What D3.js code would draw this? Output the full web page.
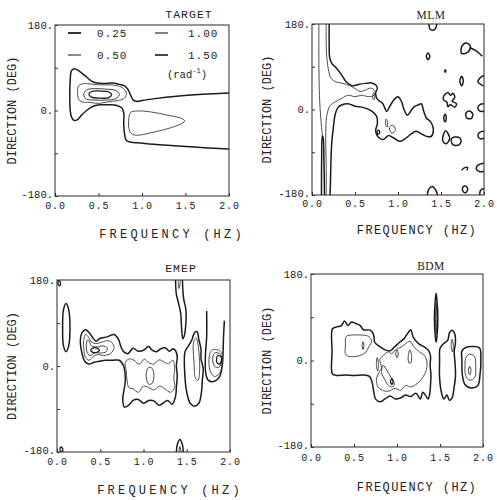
<!DOCTYPE html>
<html>
<head>
<meta charset="utf-8">
<script src="https://cdn.jsdelivr.net/npm/d3@7"></script>
<style>
body { margin: 0; background: #fff; }
svg { display: block; }
</style>
</head>
<body>
<script>
// axis values
var freqTicks = [0, 0.5, 1.0, 1.5, 2.0],
    freqLabels = ["0.0", "0.5", "1.0", "1.5", "2.0"],
    dirTicks = [-180, -90, 0, 90, 180],
    dirLabels = {"180": "180.", "0": "0.", "-180": "-180."};

// contour levels (rad^-1)
var levels = [0.25, 0.50, 1.00, 1.50],
    levelLabels = ["0.25", "0.50", "1.00", "1.50"];

// each contour: [level, closed?, [[freq, dir], ...]]
var targetContours = [
  [0.25, false, [[2.0,37],[1.7,34],[1.4,30],[1.15,25],[1.0,21],[0.95,19],[0.90,22],[0.87,32],[0.84,44],[0.80,52],[0.74,55],[0.66,58],[0.56,57],[0.48,58],[0.42,62],[0.34,74],[0.27,84],[0.22,88],[0.19,84],[0.175,65],[0.17,30],[0.175,0],[0.19,-14],[0.22,-21],[0.26,-19],[0.31,-9],[0.37,1],[0.44,9],[0.52,12],[0.62,12],[0.72,10],[0.77,5],[0.79,-5],[0.79,-30],[0.80,-50],[0.82,-63],[0.88,-67],[0.95,-68],[1.2,-72],[1.6,-77],[2.0,-81]]],
  [0.50, true, [[0.26,40],[0.27,52],[0.31,56],[0.40,56],[0.50,54],[0.62,54],[0.72,52],[0.79,46],[0.82,36],[0.80,26],[0.72,21],[0.60,18],[0.50,15],[0.40,17],[0.31,18],[0.27,24]]],
  [1.00, true, [[0.33,33],[0.36,43],[0.45,46],[0.58,45],[0.70,42],[0.74,34],[0.70,25],[0.58,22],[0.45,22],[0.36,24]]],
  [1.50, true, [[0.39,34],[0.42,40],[0.52,41],[0.62,39],[0.65,33],[0.62,27],[0.52,26],[0.42,28]]],
  [0.50, true, [[0.85,-15],[0.87,-4],[0.95,-1],[1.1,-3],[1.3,-10],[1.46,-17],[1.49,-22],[1.44,-29],[1.3,-38],[1.1,-47],[0.95,-52],[0.88,-49],[0.85,-38]]]
];

var mlmContours = [
  [0.25, false, [[0.20,180],[0.20,135],[0.205,110],[0.23,97],[0.28,88],[0.34,74],[0.40,58],[0.47,50],[0.55,53],[0.62,55],[0.69,56],[0.74,52],[0.76,44],[0.74,35],[0.76,22],[0.82,13],[0.85,2],[0.87,-4],[0.90,5],[0.95,20],[1.0,27],[1.04,17],[1.07,0],[1.11,-12],[1.15,-3],[1.19,6],[1.24,10],[1.27,12],[1.30,-4],[1.33,-18],[1.38,-26],[1.41,-40],[1.39,-56],[1.34,-57],[1.28,-52],[1.21,-46],[1.15,-52],[1.08,-62],[1.02,-67],[0.95,-60],[0.89,-55],[0.83,-63],[0.77,-58],[0.74,-45],[0.76,-30],[0.75,-14],[0.69,-3],[0.60,4],[0.50,7],[0.42,12],[0.35,10],[0.30,4],[0.27,-10],[0.25,-35],[0.23,-70],[0.22,-110],[0.215,-150],[0.21,-180]]],
  [0.50, false, [[0.165,180],[0.165,140],[0.17,115],[0.19,85],[0.22,66],[0.28,58],[0.36,55],[0.44,50],[0.50,44],[0.56,38],[0.62,41],[0.68,45],[0.73,40],[0.72,30],[0.66,27],[0.58,30],[0.50,27],[0.42,30],[0.35,24],[0.27,16],[0.21,8],[0.17,-15],[0.16,-60],[0.165,-120],[0.165,-180]]],
  [0.50, false, [[0.08,180],[0.08,100],[0.085,40],[0.095,0],[0.11,-35],[0.12,-55]]],
  [0.25, false, [[0.11,-180],[0.112,-110],[0.12,-55],[0.13,-60],[0.14,-120],[0.145,-180]]],
  [0.50, true, [[0.705,24],[0.715,34],[0.73,29],[0.72,20]]],
  [0.50, true, [[0.86,-20],[0.875,-24],[0.875,-37],[0.86,-34]]],
  [0.50, true, [[0.90,-38],[0.94,-33],[0.97,-42],[0.93,-50]]],
  [1.50, true, [[0.76,-45],[0.78,-44],[0.785,-50],[0.765,-52]]],
  [0.25, true, [[1.33,112],[1.35,119],[1.37,112],[1.35,105]]],
  [1.50, true, [[1.545,83],[1.555,83],[1.555,79],[1.545,79]]],
  [0.25, true, [[1.74,118],[1.74,132],[1.79,140],[1.84,134],[1.82,122],[1.78,118]]],
  [0.25, false, [[1.84,130],[1.92,122],[1.98,112]]],
  [0.25, false, [[1.36,180],[1.37,170],[1.41,167],[1.44,172],[1.45,180]]],
  [0.25, true, [[1.72,60],[1.74,70],[1.76,60],[1.74,50]]],
  [0.25, false, [[2.0,72],[1.95,66],[1.93,58],[1.97,52],[2.0,50]]],
  [0.25, true, [[1.53,28],[1.58,36],[1.61,30],[1.64,34],[1.66,25],[1.63,18],[1.68,12],[1.66,5],[1.61,10],[1.58,6],[1.57,15],[1.53,20]]],
  [0.25, true, [[1.79,-8],[1.83,-3],[1.87,-10],[1.85,-19],[1.80,-18]]],
  [0.25, false, [[2.0,12],[1.95,10],[1.93,2],[1.96,-4],[2.0,-3]]],
  [0.25, true, [[1.535,-14],[1.55,-10],[1.56,-18],[1.55,-26],[1.535,-22]]],
  [0.25, true, [[1.53,-52],[1.55,-45],[1.58,-50],[1.60,-62],[1.56,-72],[1.52,-66]]],
  [0.25, true, [[1.62,-62],[1.66,-58],[1.72,-60],[1.73,-70],[1.68,-76],[1.63,-72]]],
  [0.25, false, [[2.0,-45],[1.95,-48],[1.93,-56],[1.96,-62],[2.0,-60]]],
  [0.25, false, [[1.74,-128],[1.77,-123],[1.81,-122],[1.80,-128]]],
  [0.25, false, [[2.0,-113],[1.93,-117],[1.91,-125],[1.95,-131],[2.0,-130]]],
  [0.25, false, [[1.34,-180],[1.36,-167],[1.40,-162],[1.44,-170],[1.46,-180]]],
  [0.25, true, [[1.75,-165],[1.78,-161],[1.81,-166],[1.79,-175],[1.76,-173]]],
  [0.25, false, [[2.0,-166],[1.96,-170],[1.95,-180]]]
];

var emepContours = [
  [1.50, true, [[0.015,178],[0.035,177],[0.035,168],[0.015,170]]],
  [1.50, true, [[0.04,-170],[0.06,-171],[0.065,-178],[0.04,-178]]],
  [0.25, true, [[0.065,80],[0.075,118],[0.105,131],[0.135,118],[0.15,80],[0.135,42],[0.105,30],[0.075,42]]],
  [0.25, false, [[1.37,180],[1.38,150],[1.40,135],[1.43,110],[1.44,80],[1.455,57],[1.47,62],[1.49,90],[1.49,118],[1.465,140],[1.455,160],[1.45,180]]],
  [0.50, false, [[1.40,180],[1.41,162],[1.425,175],[1.43,180]]],
  [0.25, false, [[1.38,-180],[1.39,-165],[1.42,-154],[1.45,-165],[1.46,-180]]],
  [0.50, false, [[1.41,-180],[1.42,-168],[1.435,-180]]],
  [0.25, true, [[0.27,55],[0.29,70],[0.33,76],[0.37,70],[0.41,60],[0.45,52],[0.50,58],[0.58,61],[0.66,66],[0.71,56],[0.74,40],[0.77,30],[0.82,26],[0.88,37],[0.94,31],[1.0,33],[1.06,41],[1.1,33],[1.15,30],[1.2,36],[1.25,38],[1.3,31],[1.34,36],[1.37,32],[1.39,20],[1.38,0],[1.39,-20],[1.38,-45],[1.37,-64],[1.33,-80],[1.28,-72],[1.24,-76],[1.18,-82],[1.12,-73],[1.06,-72],[1.0,-78],[0.94,-70],[0.88,-72],[0.83,-82],[0.78,-86],[0.76,-70],[0.77,-55],[0.79,-30],[0.77,0],[0.72,12],[0.64,12],[0.56,12],[0.49,10],[0.43,8],[0.37,4],[0.32,10],[0.29,26]]],
  [0.50, true, [[0.79,8],[0.84,15],[0.89,12],[0.95,4],[1.01,14],[1.06,7],[1.12,4],[1.18,13],[1.24,8],[1.29,5],[1.34,12],[1.36,-5],[1.35,-25],[1.36,-45],[1.31,-55],[1.25,-48],[1.19,-42],[1.12,-50],[1.06,-45],[1.0,-42],[0.94,-55],[0.88,-48],[0.83,-45],[0.81,-30],[0.80,-10]]],
  [1.00, true, [[1.03,-18],[1.06,-3],[1.10,-5],[1.12,-20],[1.10,-36],[1.06,-38]]],
  [0.50, true, [[0.31,55],[0.33,66],[0.36,62],[0.40,50],[0.45,47],[0.52,50],[0.58,53],[0.63,50],[0.66,38],[0.62,26],[0.54,22],[0.47,24],[0.42,20],[0.37,12],[0.33,18],[0.31,35]]],
  [1.00, true, [[0.34,48],[0.36,55],[0.40,42],[0.46,40],[0.53,42],[0.58,38],[0.57,30],[0.50,27],[0.44,28],[0.38,22],[0.35,28]]],
  [1.50, true, [[0.39,33],[0.42,38],[0.47,37],[0.49,32],[0.45,28],[0.41,29]]],
  [0.25, true, [[1.48,30],[1.52,42],[1.56,55],[1.59,70],[1.62,72],[1.64,55],[1.665,35],[1.665,15],[1.69,-5],[1.68,-30],[1.67,-55],[1.64,-78],[1.59,-84],[1.54,-78],[1.50,-55],[1.48,-25]]],
  [0.50, true, [[1.58,50],[1.61,58],[1.63,45],[1.645,20],[1.65,-5],[1.63,-30],[1.60,-25],[1.585,5]]],
  [0.25, false, [[1.73,115],[1.73,60],[1.715,20],[1.72,-15],[1.75,-30],[1.82,-32],[1.88,-22],[1.91,0],[1.92,30],[1.925,60],[1.935,95]]],
  [0.50, true, [[1.76,20],[1.79,33],[1.86,34],[1.91,25],[1.91,5],[1.88,-15],[1.82,-22],[1.77,-10]]],
  [1.00, true, [[1.80,18],[1.83,28],[1.89,24],[1.905,10],[1.87,-3],[1.82,0]]],
  [1.50, true, [[1.845,15],[1.86,22],[1.895,19],[1.90,10],[1.875,4],[1.85,7]]]
];

var bdmContours = [
  [0.25, true, [[0.25,66],[0.30,70],[0.35,72],[0.39,82],[0.43,73],[0.47,80],[0.52,77],[0.57,73],[0.61,64],[0.69,63],[0.73,52],[0.74,38],[0.80,29],[0.86,22],[0.92,20],[0.97,28],[1.03,38],[1.08,45],[1.13,58],[1.16,64],[1.19,48],[1.25,35],[1.32,28],[1.37,20],[1.39,8],[1.385,-10],[1.395,-30],[1.39,-50],[1.38,-70],[1.36,-80],[1.33,-72],[1.30,-66],[1.27,-80],[1.22,-68],[1.16,-75],[1.10,-72],[1.04,-78],[0.98,-80],[0.92,-74],[0.86,-80],[0.80,-86],[0.75,-80],[0.73,-65],[0.71,-45],[0.68,-33],[0.60,-30],[0.50,-31],[0.40,-30],[0.30,-31],[0.25,-28],[0.245,20]]],
  [0.50, true, [[0.40,30],[0.41,50],[0.48,53],[0.58,53],[0.66,51],[0.70,44],[0.70,36],[0.67,28],[0.64,18],[0.58,11],[0.50,8],[0.43,9],[0.40,14]]],
  [1.00, true, [[0.595,31],[0.605,39],[0.615,31],[0.605,23]]],
  [1.00, true, [[0.76,-8],[0.77,6],[0.785,-8],[0.775,-22]]],
  [0.50, true, [[0.80,2],[0.84,10],[0.90,18],[0.94,14],[0.98,22],[1.05,28],[1.10,35],[1.15,40],[1.20,28],[1.26,18],[1.32,10],[1.35,-5],[1.33,-25],[1.28,-40],[1.22,-50],[1.16,-55],[1.10,-52],[1.04,-62],[0.98,-58],[0.90,-64],[0.83,-62],[0.78,-55],[0.76,-40],[0.79,-25],[0.82,-15]]],
  [1.00, true, [[0.84,-10],[0.88,-20],[0.93,-35],[0.97,-48],[0.95,-55],[0.90,-52],[0.86,-40],[0.82,-25]]],
  [1.50, true, [[0.925,-44],[0.94,-38],[0.955,-44],[0.94,-50]]],
  [1.00, true, [[0.985,14],[1.0,22],[1.015,14],[1.0,6]]],
  [1.00, true, [[1.13,8],[1.15,22],[1.17,8],[1.16,-5],[1.14,-5]]],
  [0.25, true, [[1.435,90],[1.445,125],[1.455,140],[1.465,125],[1.475,90],[1.465,50],[1.455,38],[1.445,50]]],
  [1.00, true, [[1.448,90],[1.455,120],[1.462,90],[1.455,55]]],
  [0.25, true, [[1.50,25],[1.54,35],[1.59,42],[1.61,58],[1.64,63],[1.67,56],[1.68,38],[1.665,18],[1.675,-5],[1.68,-32],[1.665,-55],[1.64,-78],[1.61,-83],[1.58,-72],[1.545,-80],[1.515,-65],[1.495,-35],[1.495,0]]],
  [1.00, true, [[1.63,31],[1.64,44],[1.655,31],[1.645,18]]],
  [0.25, true, [[1.755,20],[1.80,27],[1.88,29],[1.96,26],[1.975,0],[1.965,-30],[1.94,-52],[1.86,-57],[1.79,-50],[1.76,-30],[1.755,0]]],
  [0.50, true, [[1.80,5],[1.84,13],[1.90,9],[1.915,-15],[1.905,-35],[1.85,-41],[1.80,-32],[1.79,-12]]],
  [1.00, true, [[1.83,-21],[1.845,-12],[1.86,-21],[1.845,-30]]]
];

// look of each level
var mono = "'Liberation Mono', 'DejaVu Sans Mono', monospace",
    serif = "'Liberation Serif', 'DejaVu Serif', serif",
    ink = "#1b1b1b";
var levelWidth = d3.scaleOrdinal().domain(levels).range([1.5, 0.9, 0.9, 1.3]),
    levelColor = d3.scaleOrdinal().domain(levels).range([ink, "#3a3a3a", "#2a2a2a", ink]);

// panel layout
var panels = [
  {title: "TARGET", font: mono, contours: targetContours, left: 55, top: 25, width: 174, height: 171,
   titleX: 189, titleY: 18, yTitleX: 12, xPad: 6, xTitleX: 172, xTitleY: 238, xTitleSpacing: 3.2, legend: true},
  {title: "MLM", font: serif, contours: mlmContours, left: 312, top: 24, width: 172, height: 171,
   titleX: 431, titleY: 19, yTitleX: 267, xPad: 5, xTitleX: 417, xTitleY: 234, xTitleSpacing: 1.4},
  {title: "EMEP", font: mono, contours: emepContours, left: 57, top: 280, width: 173, height: 172,
   titleX: 181, titleY: 272, yTitleX: 12, xPad: 6, xTitleX: 170, xTitleY: 494, xTitleSpacing: 3.2},
  {title: "BDM", font: serif, contours: bdmContours, left: 311, top: 274, width: 172, height: 173,
   titleX: 431, titleY: 270, yTitleX: 267, xPad: 7, xTitleX: 417, xTitleY: 491, xTitleSpacing: 1.4}
];

var svg = d3.select("body")
  .append("svg")
    .attr("width", 497)
    .attr("height", 500);

panels.forEach(function(p, k) {
  var x = d3.scaleLinear().domain([0, 2]).range([p.left, p.left + p.width]),
      y = d3.scaleLinear().domain([-180, 180]).range([p.top + p.height, p.top]);

  var g = svg.append("g").attr("class", "panel");

  g.append("clipPath")
      .attr("id", "clip" + k)
    .append("rect")
      .attr("x", p.left).attr("y", p.top)
      .attr("width", p.width).attr("height", p.height);

  // contours
  var lineOpen = d3.line().x(function(d) { return x(d[0]); }).y(function(d) { return y(d[1]); })
        .curve(d3.curveCatmullRom.alpha(0.5)),
      lineClosed = d3.line().x(function(d) { return x(d[0]); }).y(function(d) { return y(d[1]); })
        .curve(d3.curveCatmullRomClosed.alpha(0.5));

  g.append("g")
      .attr("clip-path", "url(#clip" + k + ")")
    .selectAll("path")
    .data(p.contours)
    .enter()
    .append("path")
      .attr("d", function(d) { return d[1] ? lineClosed(d[2]) : lineOpen(d[2]); })
      .attr("fill", "none")
      .attr("stroke", function(d) { return levelColor(d[0]); })
      .attr("stroke-width", function(d) { return levelWidth(d[0]); })
      .attr("stroke-linejoin", "round");

  // frame
  g.append("rect")
      .attr("x", p.left).attr("y", p.top)
      .attr("width", p.width).attr("height", p.height)
      .attr("fill", "none")
      .attr("stroke", "#2a2a2a")
      .attr("stroke-width", 1);

  // axes
  var xAxis = g.append("g")
      .attr("transform", "translate(0," + (p.top + p.height) + ")")
      .call(d3.axisBottom(x)
        .tickValues(freqTicks)
        .tickSize(-3)
        .tickPadding(p.xPad)
        .tickFormat(function(d, i) { return freqLabels[i]; }));
  var yAxis = g.append("g")
      .attr("transform", "translate(" + p.left + ",0)")
      .call(d3.axisLeft(y)
        .tickValues(dirTicks)
        .tickSize(-3)
        .tickPadding(2)
        .tickFormat(function(d) { return dirLabels[d] || ""; }));
  [xAxis, yAxis].forEach(function(a) {
    a.select(".domain").remove();
    a.selectAll("line").attr("stroke", "#333");
    a.attr("font-family", mono).attr("font-size", 10);
    a.selectAll("text").attr("fill", "#222");
  });
  xAxis.selectAll("text").attr("letter-spacing", 0.8);
  yAxis.selectAll("text")
      .attr("font-size", 10.5)
      .attr("dy", function(d) { return d === -180 ? "0.1em" : "0.32em"; });

  // titles
  g.append("text")
      .attr("x", p.titleX).attr("y", p.titleY)
      .attr("text-anchor", "middle")
      .attr("font-family", p.font)
      .attr("font-size", 11.5)
      .attr("letter-spacing", p.font === mono ? 1 : 0.5)
      .attr("fill", "#222")
      .text(p.title);

  g.append("text")
      .attr("transform", "translate(" + p.yTitleX + "," + (p.top + p.height / 2) + ") rotate(-90)")
      .attr("dy", "0.35em")
      .attr("text-anchor", "middle")
      .attr("font-family", mono)
      .attr("font-size", 12)
      .attr("fill", "#222")
      .text("DIRECTION (DEG)");

  g.append("text")
      .attr("x", p.xTitleX).attr("y", p.xTitleY)
      .attr("text-anchor", "middle")
      .attr("font-family", mono)
      .attr("font-size", 12)
      .attr("letter-spacing", p.xTitleSpacing)
      .attr("fill", "#222")
      .text("FREQUENCY (HZ)");

  // legend
  if (p.legend) {
    var slots = [[68, 97, 33], [68, 97, 55], [155, 188, 33], [155, 188, 55]];
    var leg = g.append("g").attr("class", "legend");
    levels.forEach(function(lv, i) {
      var s = slots[i];
      leg.append("line")
          .attr("x1", s[0]).attr("x2", s[0] + 13)
          .attr("y1", s[2]).attr("y2", s[2])
          .attr("stroke", levelColor(lv))
          .attr("stroke-width", levelWidth(lv) + 0.3);
      leg.append("text")
          .attr("x", s[1]).attr("y", s[2])
          .attr("dy", "0.35em")
          .attr("font-family", mono)
          .attr("font-size", 11)
          .attr("letter-spacing", 1)
          .attr("fill", "#222")
          .text(levelLabels[i]);
    });
    var unit = leg.append("text")
        .attr("x", 167).attr("y", 74)
        .attr("dy", "0.35em")
        .attr("font-family", mono)
        .attr("font-size", 10.5)
        .attr("fill", "#222");
    unit.append("tspan").text("(rad");
    unit.append("tspan").attr("font-size", 7).attr("dy", "-0.6em").text("-1");
    unit.append("tspan").attr("dy", "0.45em").text(")");
  }
});
</script>
</body>
</html>
